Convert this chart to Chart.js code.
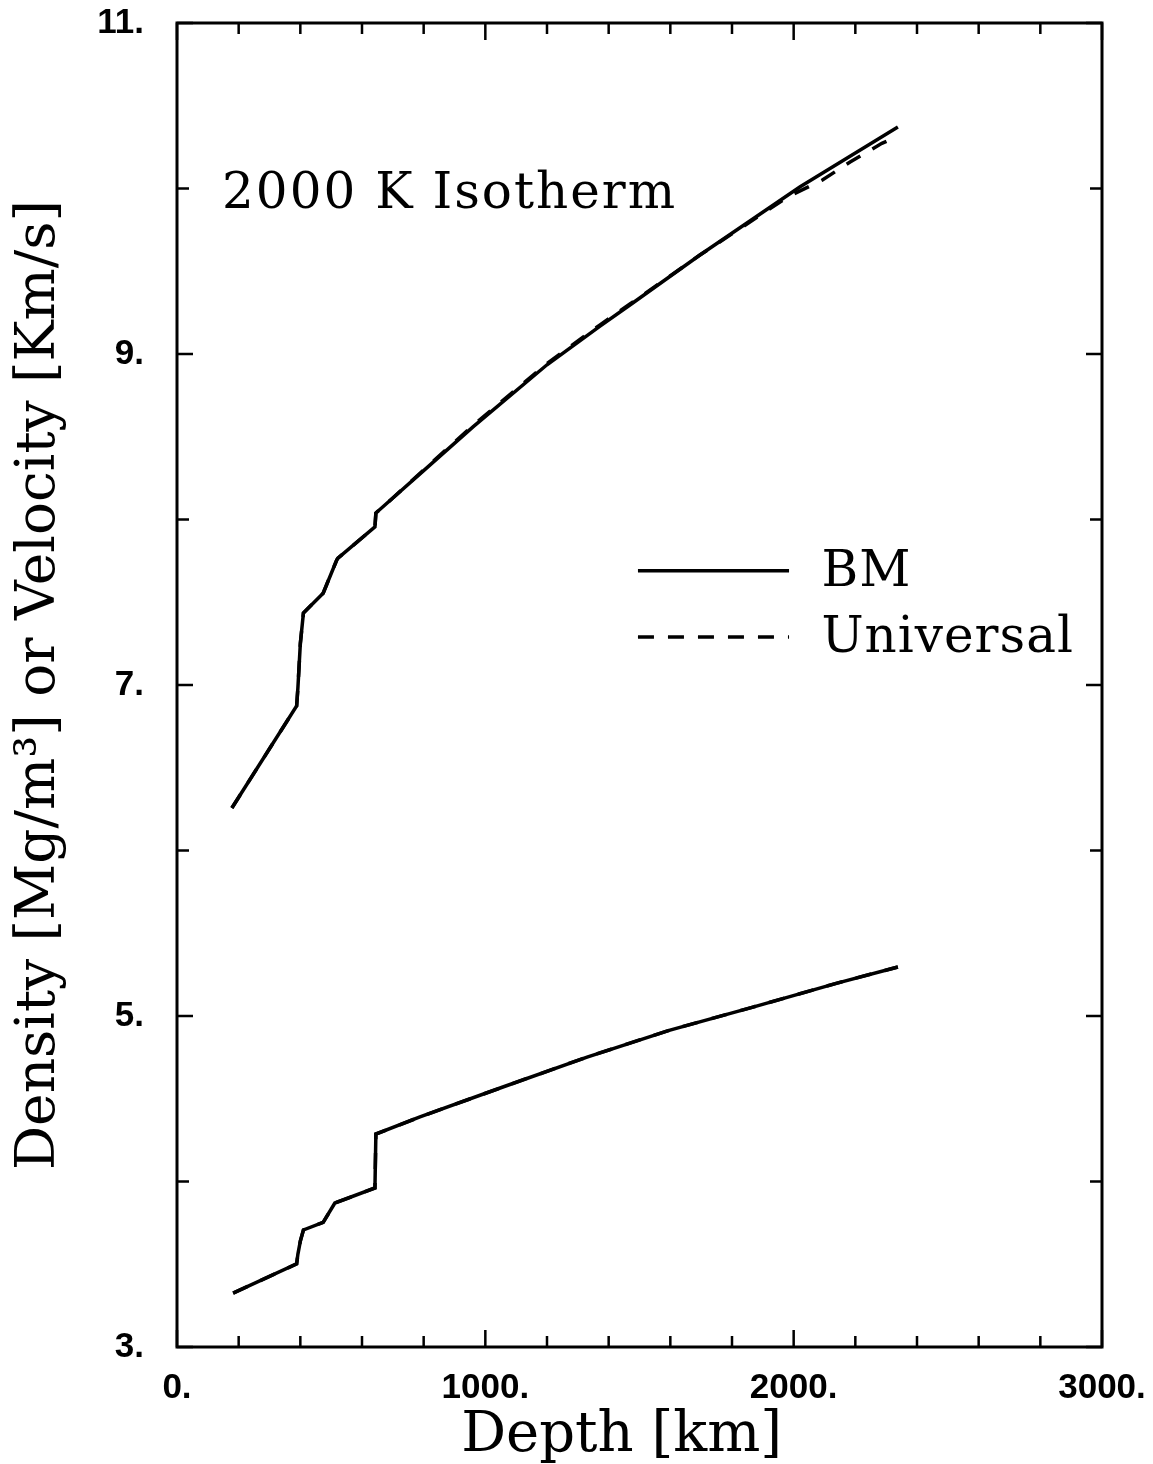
<!DOCTYPE html>
<html>
<head>
<meta charset="utf-8">
<script src="https://cdn.jsdelivr.net/npm/chart.js@4.4.1/dist/chart.umd.min.js"></script>
<style>
  html, body { margin: 0; padding: 0; background: #fff; }
</style>
</head>
<body>
<canvas id="isoChart" width="1153" height="1464"></canvas>
<script>
// depth [km] and values along the 2000 K isotherm
const velDepth = [178, 388, 392, 400, 410, 474, 518, 522, 642, 645, 700, 800, 960, 1200, 1372, 1469, 1696, 2021, 2338];
const velBM = [6.257, 6.873, 6.98, 7.25, 7.435, 7.555, 7.755, 7.767, 7.955, 8.039, 8.13, 8.295, 8.56, 8.935, 9.168, 9.296, 9.598, 10.01, 10.372];
const velUniDepth = [178, 388, 392, 400, 410, 474, 518, 522, 642, 645, 700, 800, 960, 1200, 1372, 1469, 1696, 1982, 2092, 2183, 2286, 2338];
const velUniversal = [6.257, 6.873, 6.98, 7.25, 7.435, 7.555, 7.755, 7.767, 7.955, 8.039, 8.13, 8.30, 8.568, 8.943, 9.176, 9.302, 9.598, 9.95, 10.05, 10.16, 10.273, 10.315];

const denDepth = [182, 388, 392, 400, 410, 474, 512, 642, 645, 788, 1057, 1330, 1599, 1868, 2141, 2338];
const denBM = [3.326, 3.502, 3.56, 3.64, 3.707, 3.753, 3.870, 3.961, 4.287, 4.390, 4.571, 4.752, 4.915, 5.054, 5.199, 5.296];
const denUniversal = [3.326, 3.502, 3.56, 3.64, 3.707, 3.753, 3.870, 3.961, 4.287, 4.390, 4.571, 4.752, 4.915, 5.054, 5.199, 5.296];

const xLabels = [0, 1000, 2000, 3000];
const yLabels = [3, 5, 7, 9, 11];

const SERIF = '"DejaVu Serif", "Liberation Serif", serif';
const TICKFONT = { family: '"Liberation Sans", Arial, sans-serif', weight: 'bold', size: 35 };
const DASH = [16, 14];

function pts(xs, ys) {
  return xs.map((x, i) => ({ x: x, y: ys[i] }));
}

function line(label, xs, ys, dashed) {
  return {
    label: label,
    data: pts(xs, ys),
    borderColor: '#000',
    borderWidth: 3.5,
    borderDash: dashed ? DASH : [],
    pointRadius: 0,
    tension: 0,
    fill: false
  };
}

// frame, inward ticks on all four sides, annotation and key
const framePlugin = {
  id: 'frame',
  afterDraw(chart) {
    const ctx = chart.ctx;
    const a = chart.chartArea;
    const sx = chart.scales.x, sy = chart.scales.y;
    ctx.save();
    ctx.strokeStyle = '#000';
    ctx.lineWidth = 3;
    ctx.strokeRect(a.left, a.top, a.right - a.left, a.bottom - a.top);

    ctx.lineWidth = 2.5;
    for (let v = 0; v <= 3000; v += 200) {
      const px = sx.getPixelForValue(v);
      const len = xLabels.includes(v) ? 17 : 11;
      ctx.beginPath();
      ctx.moveTo(px, a.bottom); ctx.lineTo(px, a.bottom - len);
      ctx.moveTo(px, a.top); ctx.lineTo(px, a.top + len);
      ctx.stroke();
    }
    for (let v = 3; v <= 11; v += 1) {
      const py = sy.getPixelForValue(v);
      const len = yLabels.includes(v) ? 16 : 12;
      ctx.beginPath();
      ctx.moveTo(a.left, py); ctx.lineTo(a.left + len, py);
      ctx.moveTo(a.right, py); ctx.lineTo(a.right - len, py);
      ctx.stroke();
    }

    ctx.fillStyle = '#000';
    ctx.textBaseline = 'alphabetic';
    ctx.textAlign = 'left';
    ctx.font = '50px ' + SERIF;
    ctx.letterSpacing = '2px';
    ctx.fillText('2000 K Isotherm', sx.getPixelForValue(146), sy.getPixelForValue(9.88));

    // key
    const x0 = sx.getPixelForValue(1495), x1 = sx.getPixelForValue(1985);
    const keys = [
      { text: 'BM', y: 7.69, dash: [] },
      { text: 'Universal', y: 7.29, dash: DASH }
    ];
    ctx.lineWidth = 3.5;
    ctx.textBaseline = 'middle';
    ctx.letterSpacing = '1px';
    keys.forEach(k => {
      const py = sy.getPixelForValue(k.y);
      ctx.setLineDash(k.dash);
      ctx.beginPath();
      ctx.moveTo(x0, py); ctx.lineTo(x1, py);
      ctx.stroke();
      ctx.setLineDash([]);
      ctx.fillText(k.text, sx.getPixelForValue(2090), py + 2);
    });
    ctx.restore();
  }
};

const ctx = document.getElementById('isoChart').getContext('2d');
const isoChart = new Chart(ctx, {
  type: 'line',
  data: {
    datasets: [
      line('BM', velDepth, velBM, false),
      line('Universal', velUniDepth, velUniversal, true),
      line('BM', denDepth, denBM, false),
      line('Universal', denDepth, denUniversal, true)
    ]
  },
  options: {
    responsive: false,
    animation: false,
    layout: { padding: { top: 23, right: 51, left: 0, bottom: 0 } },
    plugins: {
      legend: { display: false },
      tooltip: { enabled: false }
    },
    scales: {
      x: {
        type: 'linear',
        min: 0,
        max: 3000,
        afterFit: s => { s.height = 117; s.paddingLeft = 0; s.paddingRight = 0; },
        afterBuildTicks: s => { s.ticks = xLabels.map(v => ({ value: v })); },
        ticks: {
          callback: v => v + '.',
          font: TICKFONT,
          color: '#000',
          padding: 12,
          maxRotation: 0,
          autoSkip: false
        },
        grid: { display: false },
        border: { display: false },
        title: {
          display: true,
          text: 'Depth [km]  ',
          font: { family: SERIF, size: 56, lineHeight: 1.0 },
          color: '#000',
          padding: { top: 0, bottom: 0 }
        }
      },
      y: {
        type: 'linear',
        min: 3,
        max: 11,
        afterFit: s => { s.width = 177; s.paddingTop = 0; s.paddingBottom = 0; },
        afterBuildTicks: s => { s.ticks = yLabels.map(v => ({ value: v })); },
        ticks: {
          callback: v => v + '.',
          font: TICKFONT,
          color: '#000',
          padding: 25,
          autoSkip: false
        },
        grid: { display: false },
        border: { display: false },
        title: {
          display: true,
          text: 'Density [Mg/m³] or Velocity [Km/s]',
          font: { family: SERIF, size: 55 },
          color: '#000',
          padding: { top: 7, bottom: 0 }
        }
      }
    }
  },
  plugins: [framePlugin]
});
</script>
</body>
</html>
